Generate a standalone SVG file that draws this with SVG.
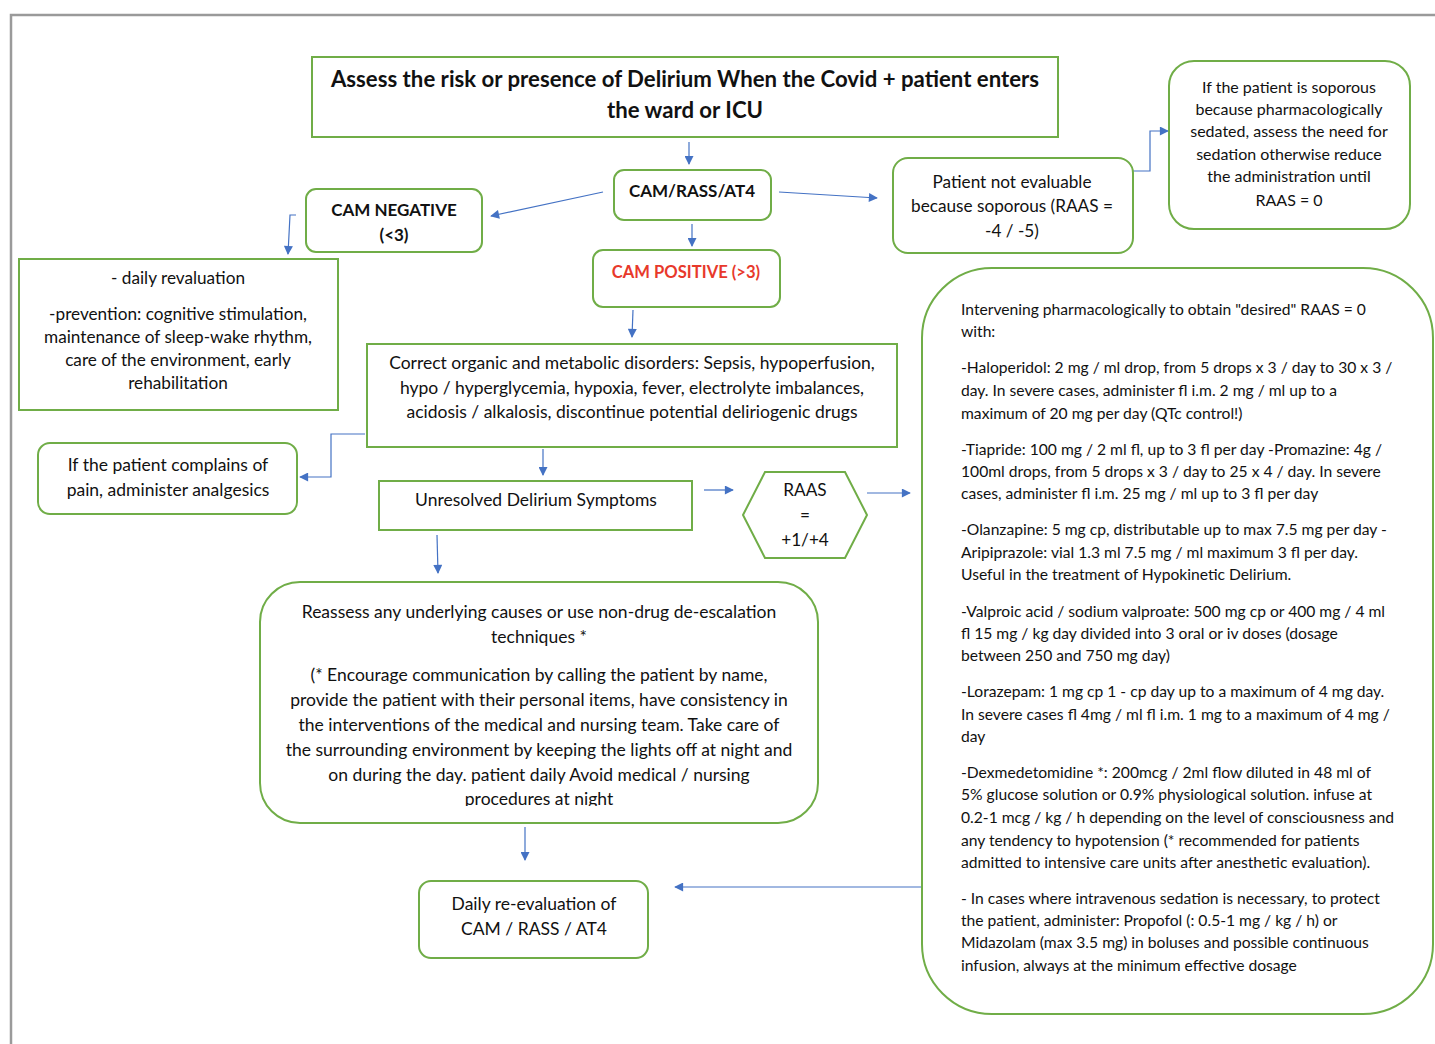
<svg xmlns="http://www.w3.org/2000/svg" width="1435" height="1044" viewBox="0 0 1435 1044">
<defs>
<style>
.box{fill:#fff;stroke:#70AD47;stroke-width:2}
.t{font-family:Lato,"Open Sans","Liberation Sans",sans-serif;font-size:17.5px;fill:#111;text-anchor:middle}
.m{font-size:17.2px}
.b{font-weight:bold;font-size:17px}
.bp{font-weight:bold;font-size:16.6px}
.ttl{font-weight:bold;font-size:22.2px}
.red{fill:#E8392B}
.sp{font-size:16px}
.s{font-size:15.65px}
.l{text-anchor:start}
.c{fill:none;stroke:#4472C4;stroke-width:1.2;marker-end:url(#ah)}
</style>
<marker id="ah" viewBox="0 0 10 10" refX="9" refY="5" markerWidth="10" markerHeight="9" markerUnits="userSpaceOnUse" orient="auto">
<path d="M0,0 L10,5 L0,10 z" fill="#4472C4"/>
</marker>
<clipPath id="clipR"><rect x="260" y="582" width="560" height="224"/></clipPath>
</defs>
<rect width="1435" height="1044" fill="#fff"/>
<path d="M11,1044 V15 H1435" fill="none" stroke="#9a9a9a" stroke-width="2.5"/>

<g id="connectors">
<path class="c" d="M689,142 V164"/>
<path class="c" d="M603,192 L491,216"/>
<path class="c" d="M779,192 L877,198"/>
<path class="c" d="M1133,171 H1150 V131 H1168"/>
<path class="c" d="M296,215 H290 L288,254"/>
<path class="c" d="M692,224 V246"/>
<path class="c" d="M633,310 L632,337"/>
<path class="c" d="M365,434 H331 V477 H300"/>
<path class="c" d="M543,449 V475"/>
<path class="c" d="M704,490 H733"/>
<path class="c" d="M867,493 H910"/>
<path class="c" d="M437,535 L438,573"/>
<path class="c" d="M525,827 V860"/>
<path class="c" d="M922,887 H675"/>
</g>

<g id="title">
<rect class="box" x="312" y="57" width="746" height="80"/>
<text class="t ttl" x="685" y="87">Assess the risk or presence of Delirium When the Covid + patient enters</text>
<text class="t ttl" x="685" y="118">the ward or ICU</text>
</g>

<g id="cam">
<rect class="box" x="614" y="170" width="157" height="50" rx="10"/>
<text class="t b" x="692" y="197">CAM/RASS/AT4</text>
</g>

<g id="camneg">
<rect class="box" x="306" y="189" width="176" height="63" rx="10"/>
<text class="t b" x="394" y="216">CAM NEGATIVE</text>
<text class="t b" x="394" y="241">(&lt;3)</text>
</g>

<g id="notevaluable">
<rect class="box" x="893" y="158" width="240" height="95" rx="15"/>
<text class="t m" x="1012" y="188">Patient not evaluable</text>
<text class="t m" x="1012" y="212">because soporous (RAAS =</text>
<text class="t m" x="1012" y="237">-4 / -5)</text>
</g>

<g id="soporous">
<rect class="box" x="1169" y="61" width="241" height="168" rx="25"/>
<text class="t sp" x="1289" y="93">If the patient is soporous</text>
<text class="t sp" x="1289" y="115">because pharmacologically</text>
<text class="t sp" x="1289" y="137">sedated, assess the need for</text>
<text class="t sp" x="1289" y="160">sedation otherwise reduce</text>
<text class="t sp" x="1289" y="182">the administration until</text>
<text class="t sp" x="1289" y="206">RAAS = 0</text>
</g>

<g id="campos">
<rect class="box" x="593" y="250" width="187" height="57" rx="10"/>
<text class="t bp red" x="686" y="278">CAM POSITIVE (&gt;3)</text>
</g>

<g id="revaluation">
<rect class="box" x="19" y="259" width="319" height="151"/>
<text class="t m" x="178" y="284">- daily revaluation</text>
<text class="t m" x="178" y="320">-prevention: cognitive stimulation,</text>
<text class="t m" x="178" y="343">maintenance of sleep-wake rhythm,</text>
<text class="t m" x="178" y="366">care of the environment, early</text>
<text class="t m" x="178" y="389">rehabilitation</text>
</g>

<g id="correct">
<rect class="box" x="367" y="344" width="530" height="103"/>
<text class="t" x="632" y="369">Correct organic and metabolic disorders: Sepsis, hypoperfusion,</text>
<text class="t" x="632" y="394">hypo / hyperglycemia, hypoxia, fever, electrolyte imbalances,</text>
<text class="t" x="632" y="418">acidosis / alkalosis, discontinue potential deliriogenic drugs</text>
</g>

<g id="pain">
<rect class="box" x="38" y="443" width="259" height="71" rx="12"/>
<text class="t" x="168" y="471">If the patient complains of</text>
<text class="t" x="168" y="496">pain, administer analgesics</text>
</g>

<g id="unresolved">
<rect class="box" x="379" y="481" width="313" height="49"/>
<text class="t" x="536" y="506">Unresolved Delirium Symptoms</text>
</g>

<g id="raas">
<polygon class="box" points="743,515 765,472 845,472 867,515 845,558 765,558"/>
<text class="t m" x="805" y="496">RAAS</text>
<text class="t m" x="805" y="521">=</text>
<text class="t m" x="805" y="546">+1/+4</text>
</g>

<g id="pharma">
<rect class="box" x="922" y="268" width="511" height="746" rx="70"/>
<text class="t s l" x="961" y="315">Intervening pharmacologically to obtain "desired" RAAS = 0</text>
<text class="t s l" x="961" y="337">with:</text>
<text class="t s l" x="961" y="373">-Haloperidol: 2 mg / ml drop, from 5 drops x 3 / day to 30 x 3 /</text>
<text class="t s l" x="961" y="396">day. In severe cases, administer fl i.m. 2 mg / ml up to a</text>
<text class="t s l" x="961" y="419">maximum of 20 mg per day (QTc control!)</text>
<text class="t s l" x="961" y="455">-Tiapride: 100 mg / 2 ml fl, up to 3 fl per day -Promazine: 4g /</text>
<text class="t s l" x="961" y="477">100ml drops, from 5 drops x 3 / day to 25 x 4 / day. In severe</text>
<text class="t s l" x="961" y="499">cases, administer fl i.m. 25 mg / ml up to 3 fl per day</text>
<text class="t s l" x="961" y="535">-Olanzapine: 5 mg cp, distributable up to max 7.5 mg per day -</text>
<text class="t s l" x="961" y="558">Aripiprazole: vial 1.3 ml 7.5 mg / ml maximum 3 fl per day.</text>
<text class="t s l" x="961" y="580">Useful in the treatment of Hypokinetic Delirium.</text>
<text class="t s l" x="961" y="617">-Valproic acid / sodium valproate: 500 mg cp or 400 mg / 4 ml</text>
<text class="t s l" x="961" y="639">fl 15 mg / kg day divided into 3 oral or iv doses (dosage</text>
<text class="t s l" x="961" y="661">between 250 and 750 mg day)</text>
<text class="t s l" x="961" y="697">-Lorazepam: 1 mg cp 1 - cp day up to a maximum of 4 mg day.</text>
<text class="t s l" x="961" y="720">In severe cases fl 4mg / ml fl i.m. 1 mg to a maximum of 4 mg /</text>
<text class="t s l" x="961" y="742">day</text>
<text class="t s l" x="961" y="778">-Dexmedetomidine *: 200mcg / 2ml flow diluted in 48 ml of</text>
<text class="t s l" x="961" y="800">5% glucose solution or 0.9% physiological solution. infuse at</text>
<text class="t s l" x="961" y="823">0.2-1 mcg / kg / h depending on the level of consciousness and</text>
<text class="t s l" x="961" y="846">any tendency to hypotension (* recommended for patients</text>
<text class="t s l" x="961" y="868">admitted to intensive care units after anesthetic evaluation).</text>
<text class="t s l" x="961" y="904">- In cases where intravenous sedation is necessary, to protect</text>
<text class="t s l" x="961" y="926">the patient, administer: Propofol (: 0.5-1 mg / kg / h) or</text>
<text class="t s l" x="961" y="948">Midazolam (max 3.5 mg) in boluses and possible continuous</text>
<text class="t s l" x="961" y="971">infusion, always at the minimum effective dosage</text>
</g>

<g id="reassess">
<rect class="box" x="260" y="582" width="558" height="241" rx="40"/>
<g clip-path="url(#clipR)">
<text class="t" x="539" y="618">Reassess any underlying causes or use non-drug de-escalation</text>
<text class="t" x="539" y="643">techniques *</text>
<text class="t" x="539" y="681">(* Encourage communication by calling the patient by name,</text>
<text class="t" x="539" y="706">provide the patient with their personal items, have consistency in</text>
<text class="t" x="539" y="731">the interventions of the medical and nursing team. Take care of</text>
<text class="t" x="539" y="756">the surrounding environment by keeping the lights off at night and</text>
<text class="t" x="539" y="781">on during the day. patient daily Avoid medical / nursing</text>
<text class="t" x="539" y="805">procedures at night</text>
</g>
</g>

<g id="daily">
<rect class="box" x="419" y="881" width="229" height="77" rx="12"/>
<text class="t" x="534" y="910">Daily re-evaluation of</text>
<text class="t" x="534" y="935">CAM / RASS / AT4</text>
</g>
</svg>
